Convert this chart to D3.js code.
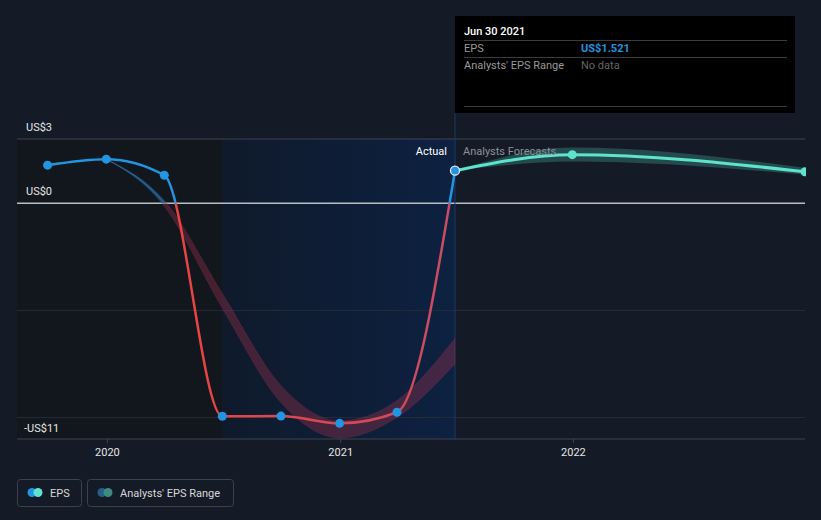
<!DOCTYPE html>
<html>
<head>
<meta charset="utf-8">
<script src="https://cdn.jsdelivr.net/npm/d3@7"></script>
<style>
  body { margin: 0; background: #151b26; }
  svg { display: block; font-family: Roboto, "Open Sans", sans-serif; }
</style>
</head>
<body>
<svg id="chart" width="821" height="520"></svg>
<script>
// reported EPS (quarterly, trailing)
var epsDates = ['2019-09-30', '2019-12-31', '2020-03-31', '2020-06-30', '2020-09-30', '2020-12-31', '2021-03-31', '2021-06-30'];
var epsValues = [1.78, 2.06, 1.31, -9.94, -9.93, -10.27, -9.75, 1.521];

// past analysts' range
var pastDates = ['2019-12-31', '2020-03-31', '2020-06-30', '2020-09-30', '2020-12-31', '2021-03-31', '2021-06-30'];
var pastLow = [2.06, -0.15, -4.9, -9.3, -10.95, -10.0, -7.5];
var pastHigh = [2.06, 0.15, -4.2, -8.5, -10.15, -9.2, -6.3];

// forecasts
var fcDates = ['2021-06-30', '2021-12-31', '2022-12-31'];
var fcValues = [1.521, 2.27, 1.47];
var fcLow = [1.521, 1.95, 1.34];
var fcHigh = [1.521, 2.6, 1.66];

var yTicks = [3, 0, -11];
var yGrid = [0, -5, -10];
var xTicks = ['2020-01-01', '2021-01-01', '2022-01-01'];

var parse = d3.timeParse('%Y-%m-%d');
var svg = d3.select('#chart');

var plotLeft = 17, plotRight = 805, plotTop = 139, plotBottom = 439;

var x = d3.scaleTime()
    .domain([new Date(2019, 7, 13), new Date(2022, 11, 31)])
    .range([plotLeft, plotRight]);
var y = d3.scaleLinear()
    .domain([-11, 3])
    .range([plotBottom, plotTop]);

var y0 = y(0);
var actualEnd = x(parse('2021-06-30'));
var lossStart = x(parse('2020-06-30'));

var defs = svg.append('defs');

var bgGrad = defs.append('linearGradient').attr('id', 'bg-grad');
bgGrad.append('stop').attr('offset', '0%').attr('stop-color', '#0f1a2b');
bgGrad.append('stop').attr('offset', '100%').attr('stop-color', '#0d2141');

var redGrad = defs.append('linearGradient')
    .attr('id', 'red-grad')
    .attr('gradientUnits', 'userSpaceOnUse')
    .attr('x1', 170).attr('x2', actualEnd).attr('y1', 0).attr('y2', 0);
redGrad.append('stop').attr('offset', '0%').attr('stop-color', '#ea4340');
redGrad.append('stop').attr('offset', '100%').attr('stop-color', '#c94c64');

defs.append('clipPath').attr('id', 'clip-pos')
    .append('rect').attr('x', 0).attr('y', 0).attr('width', 821).attr('height', y0);
defs.append('clipPath').attr('id', 'clip-neg')
    .append('rect').attr('x', 0).attr('y', y0).attr('width', 821).attr('height', 520 - y0);
defs.append('clipPath').attr('id', 'clip-plot')
    .append('rect').attr('x', plotLeft).attr('y', 0).attr('width', plotRight - plotLeft + 1).attr('height', 520);

// background regions
svg.append('rect')
    .attr('x', plotLeft).attr('y', plotTop)
    .attr('width', lossStart - plotLeft).attr('height', plotBottom - plotTop)
    .attr('fill', '#12161d');
svg.append('rect')
    .attr('x', lossStart).attr('y', plotTop)
    .attr('width', actualEnd - lossStart).attr('height', plotBottom - plotTop)
    .attr('fill', 'url(#bg-grad)');

// grid
svg.append('g').selectAll('line')
    .data(yGrid.concat([3]))
    .enter().append('line')
    .attr('x1', plotLeft).attr('x2', plotRight)
    .attr('y1', function (d) { return y(d); })
    .attr('y2', function (d) { return y(d); })
    .attr('stroke', function (d) {
        if (d === 0) return '#b9bdc5';
        if (d === 3) return '#3d4350';
        return '#252c38';
    })
    .attr('stroke-width', function (d) { return d === 0 ? 1.5 : 1; });

// hover line
svg.append('line')
    .attr('x1', actualEnd).attr('x2', actualEnd)
    .attr('y1', 113).attr('y2', plotBottom)
    .attr('stroke', '#1c3b64').attr('stroke-width', 1);

// x axis
var xAxis = svg.append('g')
    .attr('transform', 'translate(0,' + plotBottom + ')')
    .call(d3.axisBottom(x)
        .tickValues(xTicks.map(parse))
        .tickFormat(d3.timeFormat('%Y'))
        .tickSize(4)
        .tickPadding(5));
xAxis.select('.domain').attr('d', 'M' + plotLeft + ',0H' + plotRight).attr('stroke', '#3d4350');
xAxis.selectAll('.tick line').attr('stroke', '#3d4350');
xAxis.selectAll('.tick text')
    .attr('fill', '#e6e6e6')
    .attr('font-size', 11)
    .attr('font-family', 'Roboto, sans-serif');

// y labels
svg.append('g').selectAll('text')
    .data(yTicks)
    .enter().append('text')
    .attr('x', function (d) { return d < 0 ? 24 : 26; })
    .attr('y', function (d) { return d === -11 ? y(-10) + 14 : y(d) - 8; })
    .attr('fill', '#e6e6e6')
    .attr('font-size', 11)
    .text(function (d) { return (d < 0 ? '-US$' : 'US$') + Math.abs(d); });

// past range band
var pastData = pastDates.map(function (d, i) {
    return { date: parse(d), low: pastLow[i], high: pastHigh[i] };
});
var band = d3.area()
    .x(function (d) { return x(d.date); })
    .y0(function (d) { return y(d.low); })
    .y1(function (d) { return y(d.high); })
    .curve(d3.curveMonotoneX);
var bandLine = d3.line()
    .x(function (d) { return x(d.date); })
    .y(function (d) { return y((d.low + d.high) / 2); })
    .curve(d3.curveMonotoneX);

var pastPos = svg.append('g').attr('clip-path', 'url(#clip-pos)');
pastPos.append('path').datum(pastData).attr('d', band)
    .attr('fill', '#2a6aa0').attr('fill-opacity', 0.55);
pastPos.append('path').datum(pastData).attr('d', bandLine)
    .attr('fill', 'none').attr('stroke', '#2a6aa0').attr('stroke-opacity', 0.7).attr('stroke-width', 1.5);
var pastNeg = svg.append('g').attr('clip-path', 'url(#clip-neg)');
pastNeg.append('path').datum(pastData).attr('d', band)
    .attr('fill', '#8e304a').attr('fill-opacity', 0.42)
    .attr('stroke', '#8e304a').attr('stroke-opacity', 0.25).attr('stroke-width', 1);

// forecast band + line
var fcData = fcDates.map(function (d, i) {
    return { date: parse(d), value: fcValues[i], low: fcLow[i], high: fcHigh[i] };
});
var fcGroup = svg.append('g').attr('clip-path', 'url(#clip-plot)');
fcGroup.append('path').datum(fcData).attr('d', band)
    .attr('fill', '#4fc7b3').attr('fill-opacity', 0.28);

var valueLine = d3.line()
    .x(function (d) { return x(d.date); })
    .y(function (d) { return y(d.value); })
    .curve(d3.curveMonotoneX);

fcGroup.append('path').datum(fcData).attr('d', valueLine)
    .attr('fill', 'none').attr('stroke', '#5ee3cc').attr('stroke-width', 3);
fcGroup.selectAll('circle')
    .data(fcData.slice(1))
    .enter().append('circle')
    .attr('cx', function (d) { return x(d.date); })
    .attr('cy', function (d) { return y(d.value); })
    .attr('r', 4.5)
    .attr('fill', '#5ee3cc');

// EPS line
var epsData = epsDates.map(function (d, i) {
    return { date: parse(d), value: epsValues[i] };
});
svg.append('path').datum(epsData).attr('d', valueLine)
    .attr('clip-path', 'url(#clip-pos)')
    .attr('fill', 'none').attr('stroke', '#2394df').attr('stroke-width', 2.5);
svg.append('path').datum(epsData).attr('d', valueLine)
    .attr('clip-path', 'url(#clip-neg)')
    .attr('fill', 'none').attr('stroke', 'url(#red-grad)').attr('stroke-width', 2.5);

svg.append('g').selectAll('circle')
    .data(epsData)
    .enter().append('circle')
    .attr('cx', function (d) { return x(d.date); })
    .attr('cy', function (d) { return y(d.value); })
    .attr('r', 4.5)
    .attr('fill', '#2394df')
    .attr('stroke', function (d, i) { return i === epsData.length - 1 ? '#dfe9f5' : 'none'; })
    .attr('stroke-width', 1.3);

// region labels
svg.append('text')
    .attr('x', actualEnd - 8).attr('y', 155)
    .attr('text-anchor', 'end')
    .attr('fill', '#ffffff').attr('font-size', 11)
    .text('Actual');
svg.append('text')
    .attr('x', actualEnd + 8).attr('y', 155)
    .attr('fill', '#8c9099').attr('font-size', 11)
    .text('Analysts Forecasts');

// tooltip
var tip = svg.append('g').attr('transform', 'translate(455,16)');
tip.append('rect').attr('width', 340).attr('height', 97).attr('fill', '#000000');
tip.append('text').attr('x', 9).attr('y', 19)
    .attr('fill', '#ffffff').attr('font-size', 11).attr('font-weight', 500)
    .text('Jun 30 2021');
[24, 41, 90].forEach(function (ly) {
    tip.append('line').attr('x1', 9).attr('x2', 332)
        .attr('y1', ly + 0.5).attr('y2', ly + 0.5)
        .attr('stroke', '#3c3c3c');
});
tip.append('text').attr('x', 9).attr('y', 36)
    .attr('fill', '#9a9a9a').attr('font-size', 11).text('EPS');
tip.append('text').attr('x', 126).attr('y', 36)
    .attr('fill', '#2394df').attr('font-size', 11).attr('font-weight', 700)
    .text('US$' + epsValues[epsValues.length - 1]);
tip.append('text').attr('x', 9).attr('y', 53)
    .attr('fill', '#9a9a9a').attr('font-size', 11).text("Analysts' EPS Range");
tip.append('text').attr('x', 126).attr('y', 53)
    .attr('fill', '#666666').attr('font-size', 11).text('No data');

// legend
var legendItems = [
    { label: 'EPS', x: 17, w: 64, c1: '#2394df', c2: '#5ee3cc' },
    { label: "Analysts' EPS Range", x: 87, w: 146, c1: '#255e8a', c2: '#3f8a80' }
];
var legend = svg.append('g').selectAll('g')
    .data(legendItems)
    .enter().append('g')
    .attr('transform', function (d) { return 'translate(' + d.x + ',479)'; });
legend.append('rect')
    .attr('x', 0.5).attr('y', 0.5)
    .attr('width', function (d) { return d.w; }).attr('height', 27)
    .attr('rx', 3)
    .attr('fill', 'none').attr('stroke', '#3c424d');
legend.append('circle').attr('cx', 15).attr('cy', 13.5).attr('r', 4.5)
    .attr('fill', function (d) { return d.c1; });
legend.append('circle').attr('cx', 21).attr('cy', 13.5).attr('r', 4.5)
    .attr('fill', function (d) { return d.c2; });
legend.append('text').attr('x', 33).attr('y', 18)
    .attr('fill', '#d8d8d8').attr('font-size', 11)
    .text(function (d) { return d.label; });
</script>
</body>
</html>
